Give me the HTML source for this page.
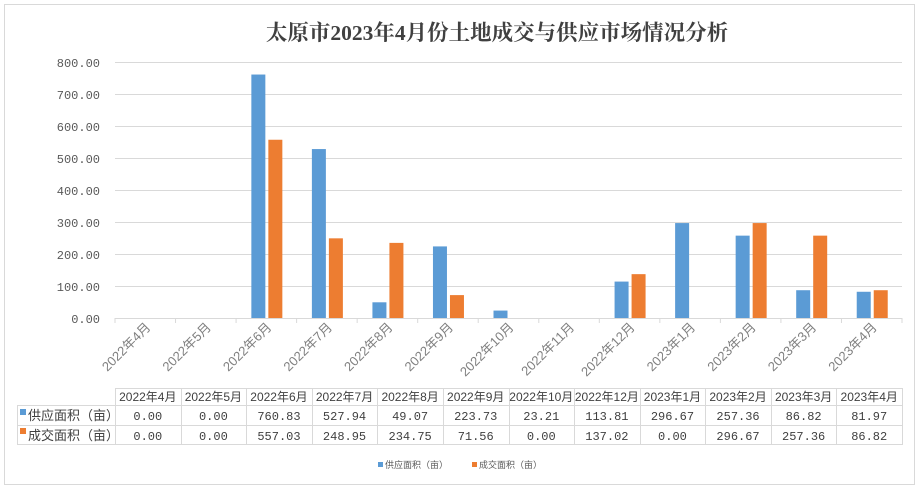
<!DOCTYPE html>
<html><head><meta charset="utf-8"><style>
body{margin:0;width:920px;height:487px;background:#fff;overflow:hidden;font-family:"Liberation Sans","Noto Sans CJK SC",sans-serif;}
</style></head><body>
<svg width="920" height="487" xmlns="http://www.w3.org/2000/svg" font-family="Liberation Sans, Noto Sans CJK SC, sans-serif">
<rect x="4.5" y="4.5" width="910" height="480" fill="#fff" stroke="#d9d9d9"/>
<text x="497" y="40" text-anchor="middle" font-family="Liberation Serif, Noto Serif CJK SC, serif" font-weight="bold" font-size="21.5" fill="#404040">太原市2023年4月份土地成交与供应市场情况分析</text>
<g stroke="#d9d9d9" stroke-width="1">
<line x1="115" x2="902" y1="62.5" y2="62.5"/><line x1="115" x2="902" y1="94.5" y2="94.5"/>
<line x1="115" x2="902" y1="126.5" y2="126.5"/><line x1="115" x2="902" y1="158.5" y2="158.5"/>
<line x1="115" x2="902" y1="190.5" y2="190.5"/><line x1="115" x2="902" y1="222.5" y2="222.5"/>
<line x1="115" x2="902" y1="254.5" y2="254.5"/><line x1="115" x2="902" y1="286.5" y2="286.5"/>
<line x1="115" x2="902" y1="318.5" y2="318.5"/>
</g>
<g font-size="12" fill="#595959" text-anchor="end" font-family="Liberation Mono, monospace">
<text x="100" y="67">800.00</text><text x="100" y="99">700.00</text><text x="100" y="131">600.00</text>
<text x="100" y="163">500.00</text><text x="100" y="195">400.00</text><text x="100" y="227">300.00</text>
<text x="100" y="259">200.00</text><text x="100" y="291">100.00</text><text x="100" y="323">0.00</text>
</g>
<g id="bars"></g>
<g id="xl" font-size="13" fill="#7f7f7f" text-anchor="end"></g>
<g id="tbl"></g>
<rect x="378" y="462" width="5" height="5" fill="#5b9bd5"/><text x="385" y="468" font-size="9" fill="#595959">供应面积（亩）</text>
<rect x="472" y="462" width="5" height="5" fill="#ed7d31"/><text x="479" y="468" font-size="9" fill="#595959">成交面积（亩）</text>
</svg>
<script>
var ns="http://www.w3.org/2000/svg";
function el(p,t,a,txt){var e=document.createElementNS(ns,t);for(var k in a)e.setAttribute(k,a[k]);if(txt!=null)e.textContent=txt;p.appendChild(e);return e;}
var cats=["2022年4月","2022年5月","2022年6月","2022年7月","2022年8月","2022年9月","2022年10月","2022年11月","2022年12月","2023年1月","2023年2月","2023年3月","2023年4月"];
var s=[0,0,760.83,527.94,49.07,223.73,23.21,0,113.81,296.67,257.36,86.82,81.97];
var o=[0,0,557.03,248.95,234.75,71.56,0,0,137.02,0,296.67,257.36,86.82];
var b=document.getElementById("bars"),xl=document.getElementById("xl"),w=787/13;
for(var i=0;i<13;i++){var c=115+w*(i+0.5);
if(s[i]>0){var h=s[i]*0.32;el(b,"rect",{x:c-15,y:318-h,width:14,height:h,fill:"#5b9bd5"});}
if(o[i]>0){var h=o[i]*0.32;el(b,"rect",{x:c+2,y:318-h,width:14,height:h,fill:"#ed7d31"});}
el(b,"line",{x1:115+w*i,x2:115+w*i,y1:318,y2:323,stroke:"#d9d9d9"});
el(xl,"text",{transform:"translate("+(c+6)+",328) rotate(-45)"},cats[i]);}
el(b,"line",{x1:902,x2:902,y1:318,y2:323,stroke:"#d9d9d9"});
var t=document.getElementById("tbl"),tc=cats.filter(function(x){return x!="2022年11月"});
var ts=s.filter(function(x,i){return i!=7}),to=o.filter(function(x,i){return i!=7});
var cw=787/12,g="#d9d9d9";
el(t,"line",{x1:115,x2:902,y1:388.5,y2:388.5,stroke:g});
el(t,"line",{x1:17,x2:902,y1:405.5,y2:405.5,stroke:g});
el(t,"line",{x1:17,x2:902,y1:425.5,y2:425.5,stroke:g});
el(t,"line",{x1:17,x2:902,y1:444.5,y2:444.5,stroke:g});
el(t,"line",{x1:17.5,x2:17.5,y1:405,y2:445,stroke:g});
for(var j=0;j<=12;j++){var x=Math.round(115+cw*j)+0.5;el(t,"line",{x1:x,x2:x,y1:388,y2:445,stroke:g});}
for(var j=0;j<12;j++){var cx=115+cw*(j+0.5);
el(t,"text",{x:cx,y:401,"text-anchor":"middle","font-size":"12",fill:"#404040"},tc[j]);
el(t,"text",{x:cx,y:420,"text-anchor":"middle","font-size":"12",fill:"#404040","font-family":"Liberation Mono, monospace"},ts[j].toFixed(2));
el(t,"text",{x:cx,y:440,"text-anchor":"middle","font-size":"12",fill:"#404040","font-family":"Liberation Mono, monospace"},to[j].toFixed(2));}
el(t,"rect",{x:20,y:409,width:6,height:6,fill:"#5b9bd5"});
el(t,"text",{x:28,y:420,"font-size":"13",fill:"#404040"},"供应面积（亩）");
el(t,"rect",{x:20,y:428,width:6,height:6,fill:"#ed7d31"});
el(t,"text",{x:28,y:440,"font-size":"13",fill:"#404040"},"成交面积（亩）");
</script>
</body></html>
